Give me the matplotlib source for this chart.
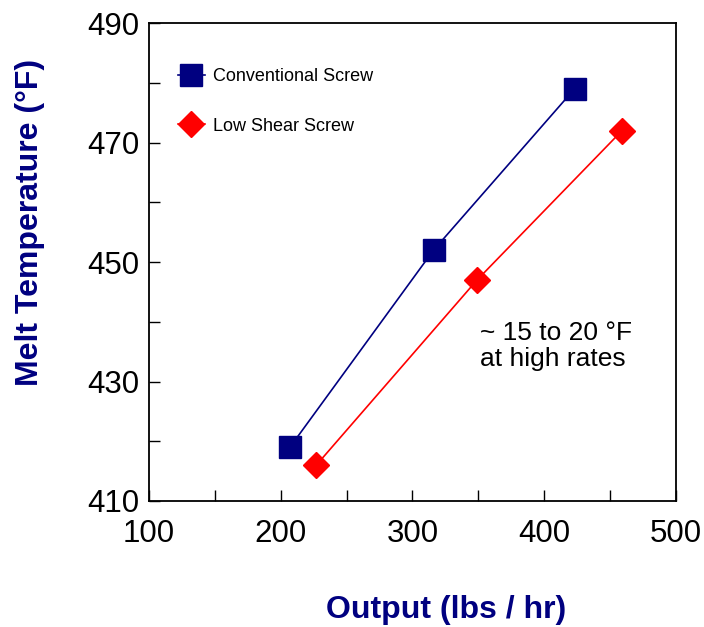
from matplotlib import pyplot as plt

plt.rcParams["font.family"] = ["Liberation Sans", "DejaVu Sans"]

CONV_OUTPUT = [207, 316, 423]
CONV_TEMP = [419, 452, 479]
LOW_OUTPUT = [227, 349, 459]
LOW_TEMP = [416, 447, 472]

X_TICKS = [100, 200, 300, 400, 500]
X_MINOR = [150, 250, 350, 450]
Y_TICKS = [410, 430, 450, 470, 490]
Y_MINOR = [420, 440, 460, 480]

NAVY = "#000080"
RED = "#ff0000"

fig = plt.figure(figsize=(7.04, 6.27), dpi=100)
ax = fig.add_axes([0.2116, 0.201, 0.7486, 0.762])

ax.plot(CONV_OUTPUT, CONV_TEMP, color=NAVY, lw=1.2, marker="s", ms=16.5,
        label="Conventional Screw")
ax.plot(LOW_OUTPUT, LOW_TEMP, color=RED, lw=1.2, marker="D", ms=13.5,
        label="Low Shear Screw")

ax.set_xlim(100, 500)
ax.set_ylim(410, 490)
ax.set_xticks(X_TICKS)
ax.set_xticks(X_MINOR, minor=True)
ax.set_yticks(Y_TICKS)
ax.set_yticks(Y_MINOR, minor=True)
ax.tick_params(which="both", direction="in", length=8, width=1, labelsize=22.5)
ax.tick_params(axis="x", pad=13)
ax.tick_params(axis="y", pad=7)

for s in ax.spines.values():
    s.set_linewidth(1.3)

ax.set_xlabel("Output (lbs / hr)", fontsize=23, fontweight="bold", color=NAVY)
ax.xaxis.set_label_coords(0.5636, -0.197)
ax.set_ylabel("Melt Temperature (°F)", fontsize=23, fontweight="bold",
              color=NAVY)
ax.yaxis.set_label_coords(-0.198, 0.584)

ax.text(351, 436, "~ 15 to 20 °F\nat high rates", fontsize=19, va="center",
        ha="left", linespacing=1.1)

ax.legend(loc="upper left", bbox_to_anchor=(0.024, 0.94), frameon=False,
          fontsize=13, handlelength=1.5, labelspacing=1.8, handletextpad=0.45)

fig.savefig("out.png", dpi=100)
